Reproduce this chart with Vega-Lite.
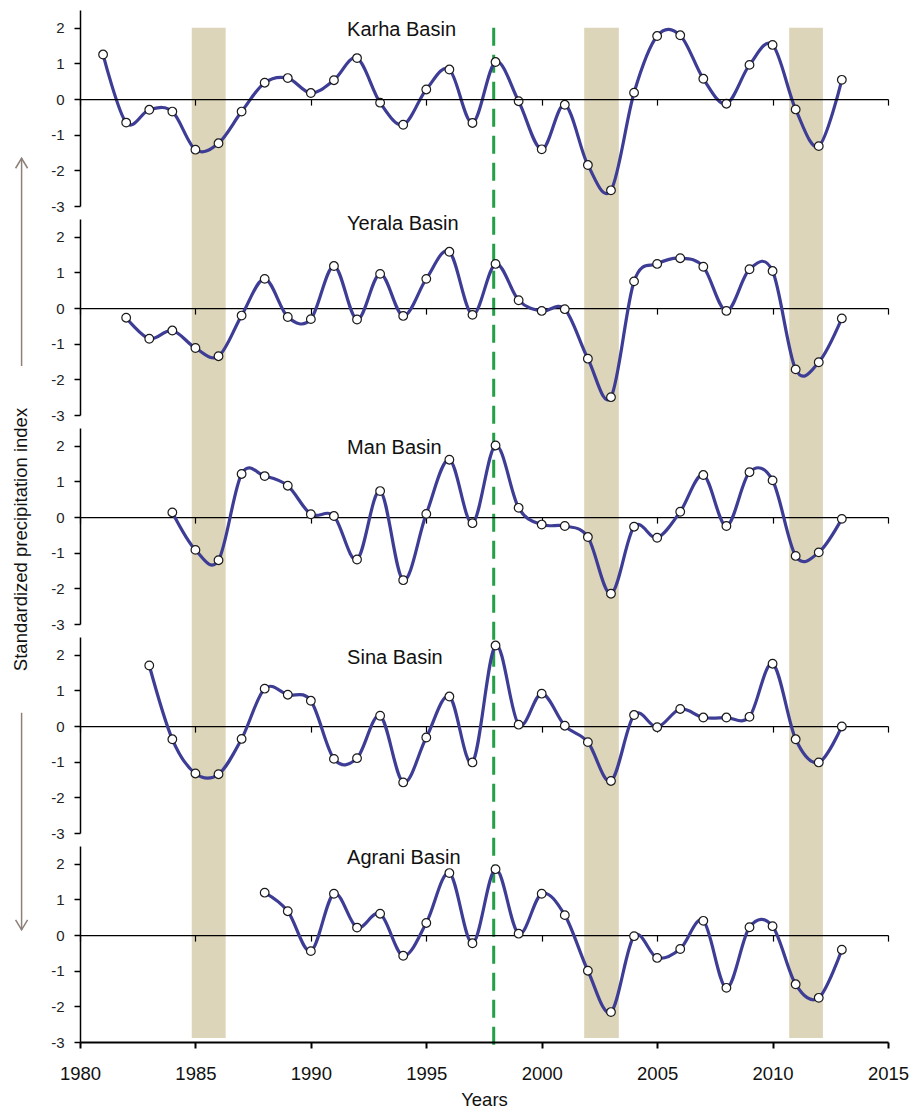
{
  "$schema": "https://vega.github.io/schema/vega-lite/v6.json",
  "background": "white",
  "padding": {"left": 10, "top": 10, "right": 5, "bottom": 5},
  "config": {
    "view": {"stroke": null},
    "font": "Liberation Sans",
    "axis": {"labelFont": "Liberation Sans", "titleFont": "Liberation Sans", "grid": false, "labelOverlap": false, "labelFlush": false},
    "axisY": {"tickCount": 12, "labelFontSize": 15, "labelExpr": "datum.value < 0 ? '-' + abs(datum.value) : '' + datum.value"},
    "point": {"size": 75},
    "text": {"font": "Liberation Sans"}
  },
  "datasets": {
    "spi": [
      {"basin": "Karha", "year": 1981, "spi": 1.25}, {"basin": "Karha", "year": 1982, "spi": -0.66}, {"basin": "Karha", "year": 1983, "spi": -0.30}, {"basin": "Karha", "year": 1984, "spi": -0.35}, {"basin": "Karha", "year": 1985, "spi": -1.42}, {"basin": "Karha", "year": 1986, "spi": -1.24}, {"basin": "Karha", "year": 1987, "spi": -0.35}, {"basin": "Karha", "year": 1988, "spi": 0.46}, {"basin": "Karha", "year": 1989, "spi": 0.59}, {"basin": "Karha", "year": 1990, "spi": 0.17}, {"basin": "Karha", "year": 1991, "spi": 0.53}, {"basin": "Karha", "year": 1992, "spi": 1.15}, {"basin": "Karha", "year": 1993, "spi": -0.10}, {"basin": "Karha", "year": 1994, "spi": -0.72}, {"basin": "Karha", "year": 1995, "spi": 0.27}, {"basin": "Karha", "year": 1996, "spi": 0.83}, {"basin": "Karha", "year": 1997, "spi": -0.67}, {"basin": "Karha", "year": 1998, "spi": 1.04}, {"basin": "Karha", "year": 1999, "spi": -0.06}, {"basin": "Karha", "year": 2000, "spi": -1.41}, {"basin": "Karha", "year": 2001, "spi": -0.16}, {"basin": "Karha", "year": 2002, "spi": -1.85}, {"basin": "Karha", "year": 2003, "spi": -2.56}, {"basin": "Karha", "year": 2004, "spi": 0.18}, {"basin": "Karha", "year": 2005, "spi": 1.77}, {"basin": "Karha", "year": 2006, "spi": 1.79}, {"basin": "Karha", "year": 2007, "spi": 0.57}, {"basin": "Karha", "year": 2008, "spi": -0.13}, {"basin": "Karha", "year": 2009, "spi": 0.96}, {"basin": "Karha", "year": 2010, "spi": 1.52}, {"basin": "Karha", "year": 2011, "spi": -0.29}, {"basin": "Karha", "year": 2012, "spi": -1.32}, {"basin": "Karha", "year": 2013, "spi": 0.54},
      {"basin": "Yerala", "year": 1982, "spi": -0.27}, {"basin": "Yerala", "year": 1983, "spi": -0.86}, {"basin": "Yerala", "year": 1984, "spi": -0.63}, {"basin": "Yerala", "year": 1985, "spi": -1.12}, {"basin": "Yerala", "year": 1986, "spi": -1.35}, {"basin": "Yerala", "year": 1987, "spi": -0.21}, {"basin": "Yerala", "year": 1988, "spi": 0.82}, {"basin": "Yerala", "year": 1989, "spi": -0.25}, {"basin": "Yerala", "year": 1990, "spi": -0.31}, {"basin": "Yerala", "year": 1991, "spi": 1.18}, {"basin": "Yerala", "year": 1992, "spi": -0.32}, {"basin": "Yerala", "year": 1993, "spi": 0.96}, {"basin": "Yerala", "year": 1994, "spi": -0.22}, {"basin": "Yerala", "year": 1995, "spi": 0.82}, {"basin": "Yerala", "year": 1996, "spi": 1.58}, {"basin": "Yerala", "year": 1997, "spi": -0.19}, {"basin": "Yerala", "year": 1998, "spi": 1.24}, {"basin": "Yerala", "year": 1999, "spi": 0.22}, {"basin": "Yerala", "year": 2000, "spi": -0.08}, {"basin": "Yerala", "year": 2001, "spi": -0.03}, {"basin": "Yerala", "year": 2002, "spi": -1.42}, {"basin": "Yerala", "year": 2003, "spi": -2.50}, {"basin": "Yerala", "year": 2004, "spi": 0.75}, {"basin": "Yerala", "year": 2005, "spi": 1.24}, {"basin": "Yerala", "year": 2006, "spi": 1.40}, {"basin": "Yerala", "year": 2007, "spi": 1.16}, {"basin": "Yerala", "year": 2008, "spi": -0.08}, {"basin": "Yerala", "year": 2009, "spi": 1.09}, {"basin": "Yerala", "year": 2010, "spi": 1.04}, {"basin": "Yerala", "year": 2011, "spi": -1.72}, {"basin": "Yerala", "year": 2012, "spi": -1.52}, {"basin": "Yerala", "year": 2013, "spi": -0.29},
      {"basin": "Man", "year": 1984, "spi": 0.13}, {"basin": "Man", "year": 1985, "spi": -0.92}, {"basin": "Man", "year": 1986, "spi": -1.21}, {"basin": "Man", "year": 1987, "spi": 1.21}, {"basin": "Man", "year": 1988, "spi": 1.15}, {"basin": "Man", "year": 1989, "spi": 0.88}, {"basin": "Man", "year": 1990, "spi": 0.08}, {"basin": "Man", "year": 1991, "spi": 0.03}, {"basin": "Man", "year": 1992, "spi": -1.19}, {"basin": "Man", "year": 1993, "spi": 0.73}, {"basin": "Man", "year": 1994, "spi": -1.77}, {"basin": "Man", "year": 1995, "spi": 0.09}, {"basin": "Man", "year": 1996, "spi": 1.61}, {"basin": "Man", "year": 1997, "spi": -0.17}, {"basin": "Man", "year": 1998, "spi": 2.01}, {"basin": "Man", "year": 1999, "spi": 0.26}, {"basin": "Man", "year": 2000, "spi": -0.21}, {"basin": "Man", "year": 2001, "spi": -0.25}, {"basin": "Man", "year": 2002, "spi": -0.56}, {"basin": "Man", "year": 2003, "spi": -2.15}, {"basin": "Man", "year": 2004, "spi": -0.27}, {"basin": "Man", "year": 2005, "spi": -0.58}, {"basin": "Man", "year": 2006, "spi": 0.15}, {"basin": "Man", "year": 2007, "spi": 1.18}, {"basin": "Man", "year": 2008, "spi": -0.25}, {"basin": "Man", "year": 2009, "spi": 1.26}, {"basin": "Man", "year": 2010, "spi": 1.03}, {"basin": "Man", "year": 2011, "spi": -1.09}, {"basin": "Man", "year": 2012, "spi": -0.99}, {"basin": "Man", "year": 2013, "spi": -0.05},
      {"basin": "Sina", "year": 1983, "spi": 1.70}, {"basin": "Sina", "year": 1984, "spi": -0.37}, {"basin": "Sina", "year": 1985, "spi": -1.33}, {"basin": "Sina", "year": 1986, "spi": -1.35}, {"basin": "Sina", "year": 1987, "spi": -0.36}, {"basin": "Sina", "year": 1988, "spi": 1.05}, {"basin": "Sina", "year": 1989, "spi": 0.88}, {"basin": "Sina", "year": 1990, "spi": 0.71}, {"basin": "Sina", "year": 1991, "spi": -0.92}, {"basin": "Sina", "year": 1992, "spi": -0.90}, {"basin": "Sina", "year": 1993, "spi": 0.29}, {"basin": "Sina", "year": 1994, "spi": -1.58}, {"basin": "Sina", "year": 1995, "spi": -0.32}, {"basin": "Sina", "year": 1996, "spi": 0.83}, {"basin": "Sina", "year": 1997, "spi": -1.02}, {"basin": "Sina", "year": 1998, "spi": 2.26}, {"basin": "Sina", "year": 1999, "spi": 0.04}, {"basin": "Sina", "year": 2000, "spi": 0.91}, {"basin": "Sina", "year": 2001, "spi": 0.01}, {"basin": "Sina", "year": 2002, "spi": -0.45}, {"basin": "Sina", "year": 2003, "spi": -1.54}, {"basin": "Sina", "year": 2004, "spi": 0.31}, {"basin": "Sina", "year": 2005, "spi": -0.03}, {"basin": "Sina", "year": 2006, "spi": 0.48}, {"basin": "Sina", "year": 2007, "spi": 0.24}, {"basin": "Sina", "year": 2008, "spi": 0.24}, {"basin": "Sina", "year": 2009, "spi": 0.26}, {"basin": "Sina", "year": 2010, "spi": 1.75}, {"basin": "Sina", "year": 2011, "spi": -0.37}, {"basin": "Sina", "year": 2012, "spi": -1.02}, {"basin": "Sina", "year": 2013, "spi": -0.01},
      {"basin": "Agrani", "year": 1988, "spi": 1.19}, {"basin": "Agrani", "year": 1989, "spi": 0.67}, {"basin": "Agrani", "year": 1990, "spi": -0.45}, {"basin": "Agrani", "year": 1991, "spi": 1.16}, {"basin": "Agrani", "year": 1992, "spi": 0.21}, {"basin": "Agrani", "year": 1993, "spi": 0.60}, {"basin": "Agrani", "year": 1994, "spi": -0.58}, {"basin": "Agrani", "year": 1995, "spi": 0.34}, {"basin": "Agrani", "year": 1996, "spi": 1.74}, {"basin": "Agrani", "year": 1997, "spi": -0.23}, {"basin": "Agrani", "year": 1998, "spi": 1.85}, {"basin": "Agrani", "year": 1999, "spi": 0.04}, {"basin": "Agrani", "year": 2000, "spi": 1.16}, {"basin": "Agrani", "year": 2001, "spi": 0.56}, {"basin": "Agrani", "year": 2002, "spi": -1.00}, {"basin": "Agrani", "year": 2003, "spi": -2.16}, {"basin": "Agrani", "year": 2004, "spi": -0.03}, {"basin": "Agrani", "year": 2005, "spi": -0.64}, {"basin": "Agrani", "year": 2006, "spi": -0.39}, {"basin": "Agrani", "year": 2007, "spi": 0.40}, {"basin": "Agrani", "year": 2008, "spi": -1.48}, {"basin": "Agrani", "year": 2009, "spi": 0.22}, {"basin": "Agrani", "year": 2010, "spi": 0.25}, {"basin": "Agrani", "year": 2011, "spi": -1.38}, {"basin": "Agrani", "year": 2012, "spi": -1.76}, {"basin": "Agrani", "year": 2013, "spi": -0.41}
    ],
    "bands": [
      {"start": 1984.84, "end": 1986.31},
      {"start": 2001.84, "end": 2003.34},
      {"start": 2010.72, "end": 2012.18}
    ]
  },
  "bounds": "flush",
  "spacing": 13,
  "vconcat": [
    {
      "width": 808, "height": 196,
      "layer": [
        {
          "data": {"name": "bands"},
          "mark": {"type": "rect", "color": "#ddd5b9"},
          "encoding": {
            "x": {"field": "start", "type": "quantitative", "scale": {"domain": [1980, 2015], "nice": false, "zero": false},
                  "axis": {"orient": "bottom", "offset": -106.9, "zindex": 1, "values": [1980, 1985, 1990, 1995, 2000, 2005, 2010, 2015], "labels": false, "title": null, "domainColor": "#000", "domainWidth": 1.2, "tickColor": "#000", "tickSize": 6, "tickWidth": 1.2}},
            "x2": {"field": "end"},
            "y": {"datum": 2, "type": "quantitative", "scale": {"domain": [-3, 2.5], "nice": false, "zero": false},
                  "axis": {"values": [-3, -2, -1, 0, 1, 2], "title": null, "domainColor": "#000", "domainWidth": 1.5, "tickColor": "#000", "tickSize": 6, "tickWidth": 1.5, "labelColor": "#222", "labelPadding": 10}},
            "y2": {"datum": -26.35}
          }
        },
        {
          "data": {"values": [{}]},
          "mark": {"type": "rule", "color": "#23a046", "strokeWidth": 3, "strokeDash": [18, 9]},
          "encoding": {"x": {"datum": 1997.92}, "y": {"datum": 2}, "y2": {"datum": -26.57}}
        },
        {
          "data": {"values": [{}]},
          "mark": {"type": "rule", "color": "#8c8078", "strokeWidth": 1.5},
          "encoding": {"x": {"datum": 1977.47}, "y": {"datum": -1.66}, "y2": {"datum": -7.49}}
        },
        {
          "data": {"values": [{}]},
          "mark": {"type": "point", "shape": "M-0.6,1L0,0L0.6,1", "filled": false, "size": 400, "stroke": "#8c8078", "strokeWidth": 1.5, "opacity": 1},
          "encoding": {"x": {"datum": 1977.47}, "y": {"datum": -1.66}}
        },
        {
          "data": {"values": [{}]},
          "mark": {"type": "rule", "color": "#8c8078", "strokeWidth": 1.5},
          "encoding": {"x": {"datum": 1977.47}, "y": {"datum": -17.22}, "y2": {"datum": -23.31}}
        },
        {
          "data": {"values": [{}]},
          "mark": {"type": "point", "shape": "M-0.6,-1L0,0L0.6,-1", "filled": false, "size": 400, "stroke": "#8c8078", "strokeWidth": 1.5, "opacity": 1},
          "encoding": {"x": {"datum": 1977.47}, "y": {"datum": -23.31}}
        },
        {
          "data": {"name": "spi"},
          "transform": [{"filter": {"field": "basin", "equal": "Karha"}}],
          "mark": {"type": "line", "interpolate": "cardinal", "color": "#3e3d96", "strokeWidth": 3.2},
          "encoding": {"x": {"field": "year", "type": "quantitative"}, "y": {"field": "spi", "type": "quantitative"}}
        },
        {
          "data": {"name": "spi"},
          "transform": [{"filter": {"field": "basin", "equal": "Karha"}}],
          "mark": {"type": "point", "filled": true, "fill": "white", "stroke": "#1a1a1a", "strokeWidth": 1.2, "opacity": 1},
          "encoding": {"x": {"field": "year", "type": "quantitative"}, "y": {"field": "spi", "type": "quantitative"}}
        },
        {
          "data": {"values": [{}]},
          "mark": {"type": "text", "text": "Karha Basin", "fontSize": 20, "align": "left", "baseline": "alphabetic", "color": "#111"},
          "encoding": {"x": {"datum": 1991.57}, "y": {"datum": 1.77}}
        }
      ]
    },
    {
      "width": 808, "height": 196,
      "layer": [
        {
          "data": {"name": "spi"},
          "transform": [{"filter": {"field": "basin", "equal": "Yerala"}}],
          "mark": {"type": "line", "interpolate": "cardinal", "color": "#3e3d96", "strokeWidth": 3.2},
          "encoding": {
            "x": {"field": "year", "type": "quantitative", "scale": {"domain": [1980, 2015], "nice": false, "zero": false},
                  "axis": {"orient": "bottom", "offset": -106.9, "values": [1980, 1985, 1990, 1995, 2000, 2005, 2010, 2015], "labels": false, "title": null, "domainColor": "#000", "domainWidth": 1.2, "tickColor": "#000", "tickSize": 6, "tickWidth": 1.2}},
            "y": {"field": "spi", "type": "quantitative", "scale": {"domain": [-3, 2.5], "nice": false, "zero": false},
                  "axis": {"values": [-3, -2, -1, 0, 1, 2], "title": null, "domainColor": "#000", "domainWidth": 1.5, "tickColor": "#000", "tickSize": 6, "tickWidth": 1.5, "labelColor": "#222", "labelPadding": 10}}
          }
        },
        {
          "data": {"name": "spi"},
          "transform": [{"filter": {"field": "basin", "equal": "Yerala"}}],
          "mark": {"type": "point", "filled": true, "fill": "white", "stroke": "#1a1a1a", "strokeWidth": 1.2, "opacity": 1},
          "encoding": {"x": {"field": "year", "type": "quantitative"}, "y": {"field": "spi", "type": "quantitative"}}
        },
        {
          "data": {"values": [{}]},
          "mark": {"type": "text", "text": "Yerala Basin", "fontSize": 20, "align": "left", "baseline": "alphabetic", "color": "#111"},
          "encoding": {"x": {"datum": 1991.57}, "y": {"datum": 2.19}}
        }
      ]
    },
    {
      "width": 808, "height": 196,
      "layer": [
        {
          "data": {"name": "spi"},
          "transform": [{"filter": {"field": "basin", "equal": "Man"}}],
          "mark": {"type": "line", "interpolate": "cardinal", "color": "#3e3d96", "strokeWidth": 3.2},
          "encoding": {
            "x": {"field": "year", "type": "quantitative", "scale": {"domain": [1980, 2015], "nice": false, "zero": false},
                  "axis": {"orient": "bottom", "offset": -106.9, "values": [1980, 1985, 1990, 1995, 2000, 2005, 2010, 2015], "labels": false, "title": null, "domainColor": "#000", "domainWidth": 1.2, "tickColor": "#000", "tickSize": 6, "tickWidth": 1.2}},
            "y": {"field": "spi", "type": "quantitative", "scale": {"domain": [-3, 2.5], "nice": false, "zero": false},
                  "axis": {"values": [-3, -2, -1, 0, 1, 2], "title": "Standardized precipitation index", "titleFontSize": 18.5, "titleFontWeight": "normal", "titleColor": "#111", "titleBaseline": "alphabetic", "titleX": -54, "titleY": 111, "domainColor": "#000", "domainWidth": 1.5, "tickColor": "#000", "tickSize": 6, "tickWidth": 1.5, "labelColor": "#222", "labelPadding": 10}}
          }
        },
        {
          "data": {"name": "spi"},
          "transform": [{"filter": {"field": "basin", "equal": "Man"}}],
          "mark": {"type": "point", "filled": true, "fill": "white", "stroke": "#1a1a1a", "strokeWidth": 1.2, "opacity": 1},
          "encoding": {"x": {"field": "year", "type": "quantitative"}, "y": {"field": "spi", "type": "quantitative"}}
        },
        {
          "data": {"values": [{}]},
          "mark": {"type": "text", "text": "Man Basin", "fontSize": 20, "align": "left", "baseline": "alphabetic", "color": "#111"},
          "encoding": {"x": {"datum": 1991.57}, "y": {"datum": 1.76}}
        }
      ]
    },
    {
      "width": 808, "height": 196,
      "layer": [
        {
          "data": {"name": "spi"},
          "transform": [{"filter": {"field": "basin", "equal": "Sina"}}],
          "mark": {"type": "line", "interpolate": "cardinal", "color": "#3e3d96", "strokeWidth": 3.2},
          "encoding": {
            "x": {"field": "year", "type": "quantitative", "scale": {"domain": [1980, 2015], "nice": false, "zero": false},
                  "axis": {"orient": "bottom", "offset": -106.9, "values": [1980, 1985, 1990, 1995, 2000, 2005, 2010, 2015], "labels": false, "title": null, "domainColor": "#000", "domainWidth": 1.2, "tickColor": "#000", "tickSize": 6, "tickWidth": 1.2}},
            "y": {"field": "spi", "type": "quantitative", "scale": {"domain": [-3, 2.5], "nice": false, "zero": false},
                  "axis": {"values": [-3, -2, -1, 0, 1, 2], "title": null, "domainColor": "#000", "domainWidth": 1.5, "tickColor": "#000", "tickSize": 6, "tickWidth": 1.5, "labelColor": "#222", "labelPadding": 10}}
          }
        },
        {
          "data": {"name": "spi"},
          "transform": [{"filter": {"field": "basin", "equal": "Sina"}}],
          "mark": {"type": "point", "filled": true, "fill": "white", "stroke": "#1a1a1a", "strokeWidth": 1.2, "opacity": 1},
          "encoding": {"x": {"field": "year", "type": "quantitative"}, "y": {"field": "spi", "type": "quantitative"}}
        },
        {
          "data": {"values": [{}]},
          "mark": {"type": "text", "text": "Sina Basin", "fontSize": 20, "align": "left", "baseline": "alphabetic", "color": "#111"},
          "encoding": {"x": {"datum": 1991.57}, "y": {"datum": 1.74}}
        }
      ]
    },
    {
      "width": 808, "height": 196,
      "resolve": {"axis": {"x": "independent"}},
      "layer": [
        {
          "data": {"name": "spi"},
          "transform": [{"filter": {"field": "basin", "equal": "Agrani"}}],
          "mark": {"type": "line", "interpolate": "cardinal", "color": "#3e3d96", "strokeWidth": 3.2},
          "encoding": {
            "x": {"field": "year", "type": "quantitative", "scale": {"domain": [1980, 2015], "nice": false, "zero": false},
                  "axis": {"orient": "bottom", "values": [1980, 1985, 1990, 1995, 2000, 2005, 2010, 2015], "format": "d", "title": "Years", "titleFontSize": 18.5, "titleFontWeight": "normal", "titleColor": "#111", "titlePadding": 8, "labelFontSize": 18.5, "labelColor": "#111", "labelPadding": 16, "domainColor": "#000", "domainWidth": 2, "tickColor": "#000", "tickSize": 6, "tickWidth": 2}},
            "y": {"field": "spi", "type": "quantitative", "scale": {"domain": [-3, 2.5], "nice": false, "zero": false},
                  "axis": {"values": [-3, -2, -1, 0, 1, 2], "title": null, "domainColor": "#000", "domainWidth": 1.5, "tickColor": "#000", "tickSize": 6, "tickWidth": 1.5, "labelColor": "#222", "labelPadding": 10}}
          }
        },
        {
          "data": {"name": "spi"},
          "transform": [{"filter": {"field": "basin", "equal": "Agrani"}}],
          "mark": {"type": "point", "filled": true, "fill": "white", "stroke": "#1a1a1a", "strokeWidth": 1.2, "opacity": 1},
          "encoding": {
            "x": {"field": "year", "type": "quantitative",
                  "axis": {"orient": "bottom", "offset": -106.9, "values": [1980, 1985, 1990, 1995, 2000, 2005, 2010, 2015], "labels": false, "title": null, "domainColor": "#000", "domainWidth": 1.2, "tickColor": "#000", "tickSize": 6, "tickWidth": 1.2}},
            "y": {"field": "spi", "type": "quantitative"}
          }
        },
        {
          "data": {"values": [{}]},
          "mark": {"type": "text", "text": "Agrani Basin", "fontSize": 20, "align": "left", "baseline": "alphabetic", "color": "#111"},
          "encoding": {"x": {"datum": 1991.57, "axis": null}, "y": {"datum": 2.0}}
        }
      ]
    }
  ]
}
